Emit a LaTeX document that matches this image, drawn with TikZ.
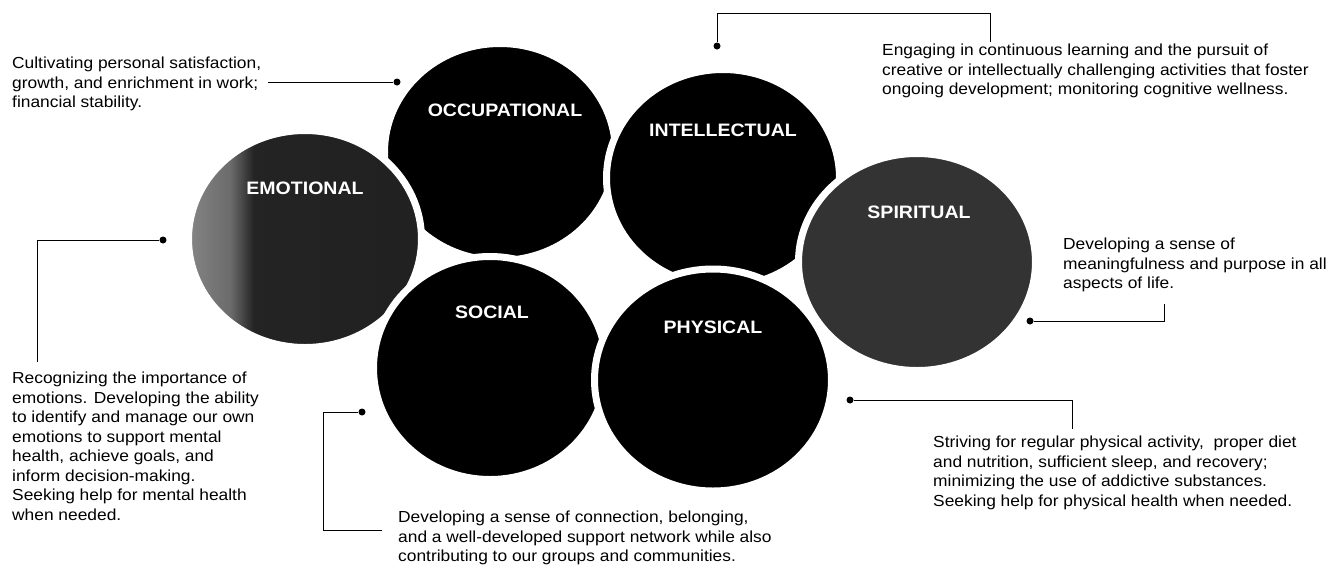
\documentclass[tikz,border=0pt]{standalone}
\usepackage{fontspec}
\setmainfont[FakeStretch=1.085]{Liberation Sans}
\usetikzlibrary{arrows,positioning,backgrounds,shapes.geometric}
\pgfdeclarehorizontalshading{halftone}{100bp}{color(0bp)=(black!48); color(25bp)=(black!48); color(34bp)=(black!58); color(39bp)=(black!86); color(100bp)=(black!88)}
\tikzset{
    %Define style for the wellness circles
    dimension/.style={
           ellipse,
           draw=white, line width=7pt,
           inner sep=0pt,
           minimum width=233pt,
           minimum height=217pt,
           fill=black},
    faded/.style={
           dimension,
           fill=black!80},
    %Define style for the circle titles
    heading/.style={
           font=\fontsize{18}{20}\selectfont\bfseries,
           text=white,
           inner sep=0pt},
    %Define style for the descriptions
    blurb/.style={
           font=\fontsize{16}{19.5}\selectfont,
           align=left,
           inner sep=0pt,
           anchor=north west},
    % Define connector style
    lead/.style={
           -,
           line width=.9pt},
    blob/.style={
           circle,
           fill=black,
           inner sep=0pt,
           minimum size=7pt}
}

\begin{document}
\begin{tikzpicture}[x=1pt,y=-1pt,node distance=44pt]
\useasboundingbox[fill=white] (0,0) rectangle (1331,571);
 %circles
\node[dimension, minimum width=231pt] (occ) at (500,152) {};
\node[dimension] (int) at (723,178) {};
\node[faded, shade, shading=halftone] (emo) at (305,239) {};
\node[dimension, minimum height=223pt] (soc) at (490,368) {};
\node[dimension, minimum width=237pt, minimum height=222pt] (phy) at (713,380) {};
\node[faded, minimum width=237pt] (spi) at (917,262) {};
 %titles
\node[heading, above=35pt of occ.center, xshift=5pt] (occlbl) {OCCUPATIONAL};
\node[heading, above=41pt of int.center] (intlbl) {INTELLECTUAL};
\node[heading, above=of emo.center] (emolbl) {EMOTIONAL};
\node[heading, above=49pt of soc.center, xshift=2pt] (soclbl) {SOCIAL};
\node[heading, above=46pt of phy.center] (phylbl) {PHYSICAL};
\node[heading, above=43pt of spi.center, xshift=2pt] (spilbl) {SPIRITUAL};
 %descriptions
\node[blurb] (occtext) at (12,57) {Cultivating personal satisfaction,\\
  growth, and enrichment in work;\\ financial stability.};
\node[blurb] (inttext) at (882,44) {Engaging in continuous learning and the pursuit of\\
  creative or intellectually challenging activities that foster\\
  ongoing development; monitoring cognitive wellness.};
\node[blurb] (emotext) at (12,372) {Recognizing the importance of\\
  emotions. Developing the ability\\ to identify and manage our own\\
  emotions to support mental\\ health, achieve goals, and\\
  inform decision-making.\\ Seeking help for mental health\\ when needed.};
\node[blurb] (spitext) at (1063,238) {Developing a sense of\\
  meaningfulness and purpose in all\\ aspects of life.};
\node[blurb] (phytext) at (933,436) {Striving for regular physical activity,\ \ proper diet\\
  and nutrition, sufficient sleep, and recovery;\\
  minimizing the use of addictive substances.\\
  Seeking help for physical health when needed.};
\node[blurb] (soctext) at (398,511) {Developing a sense of connection, belonging,\\
  and a well-developed support network while also\\
  contributing to our groups and communities.};
 %connectors
\node[blob] (occdot) at (397,82) {};
\node[blob] (intdot) at (717,46) {};
\node[blob] (emodot) at (163,240) {};
\node[blob] (spidot) at (1030,321) {};
\node[blob] (phydot) at (850,400) {};
\node[blob] (socdot) at (362,412) {};
\coordinate (occend) at (268,82);
\coordinate (intend) at (990,42);
\coordinate (emoend) at (37,362);
\coordinate (spiend) at (1164,304);
\coordinate (phyend) at (1072,429);
\coordinate (socend) at (382,530);
\draw[lead] (occend) -- (occdot);
\draw[lead] (intdot) |- ([yshift=29pt]intend) -- (intend);
\draw[lead] (emodot) -| (emoend);
\draw[lead] (spidot) -| (spiend);
\draw[lead] (phydot) -| (phyend);
\draw[lead] (socdot) -- ++(-39,0) |- (socend);
\end{tikzpicture}
\end{document}
